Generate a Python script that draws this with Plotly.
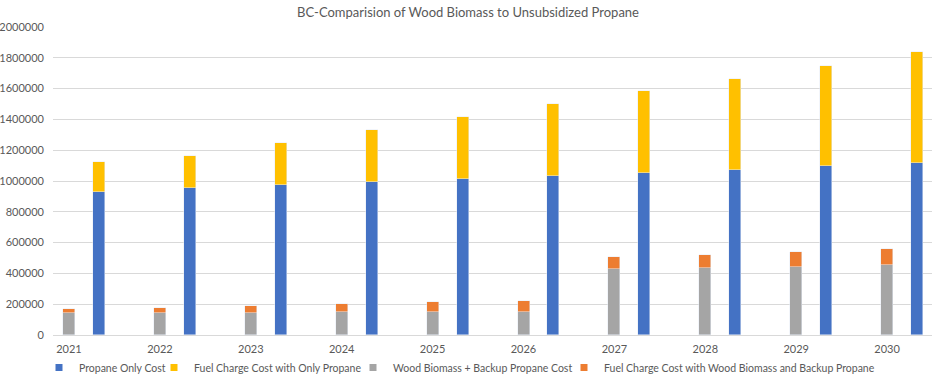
import plotly.graph_objects as go

years = ["2021", "2022", "2023", "2024", "2025", "2026", "2027", "2028", "2029", "2030"]
propane_only = [930000, 952000, 973000, 992000, 1012000, 1033000, 1053000, 1074000, 1095000, 1117000]
fuel_charge_propane = [192000, 213000, 274000, 339000, 402000, 465000, 529000, 591000, 654000, 718000]
wood_biomass = [140000, 143000, 145000, 147000, 150000, 152000, 428000, 436000, 444000, 453000]
fuel_charge_wood = [30000, 34000, 43000, 52000, 62000, 71000, 77000, 85000, 97000, 107000]

series_names = ["Propane Only Cost", "Fuel Charge Cost with Only Propane",
                "Wood Biomass + Backup Propane Cost", "Fuel Charge Cost with Wood Biomass and Backup Propane"]
series_colors = ["#4472C4", "#FFC000", "#A5A5A5", "#ED7D31"]

idx = list(range(len(years)))
x_wood = idx
x_prop = [i + 0.33 for i in idx]
bw = 0.132

W, H = 936, 378

fig = go.Figure()
bar_specs = [(x_prop, propane_only), (x_prop, fuel_charge_propane),
             (x_wood, wood_biomass), (x_wood, fuel_charge_wood)]
for (xs, ys), name, col in zip(bar_specs, series_names, series_colors):
    fig.add_bar(x=xs, y=ys, name=name, marker_color=col, width=bw, showlegend=False)

# legend entries with small square keys (Excel style)
legend_ids = ["legend", "legend2", "legend3", "legend4"]
for name, col, lid in zip(series_names, series_colors, legend_ids):
    fig.add_scatter(x=[None], y=[None], mode="markers", name=name,
                    marker=dict(symbol="square", size=7, color=col), legend=lid, showlegend=True)

def leg(px):
    return dict(orientation="h", xref="container", x=px / W, xanchor="left",
                yref="container", y=(H - 353) / H, yanchor="top",
                font=dict(size=10.5, color="#595959"), itemwidth=30,
                bgcolor="rgba(0,0,0,0)")

fig.update_layout(
    width=W, height=H,
    barmode="stack",
    paper_bgcolor="white", plot_bgcolor="white",
    margin=dict(l=53, r=4, t=27, b=43, autoexpand=False),
    font=dict(family="Lato", size=11, color="#595959"),
    title=dict(text="BC-Comparision of Wood Biomass to Unsubsidized Propane",
               x=0.5, xanchor="center", y=1 - 12 / H, yanchor="middle", yref="container",
               font=dict(size=13, color="#595959")),
    showlegend=True,
    legend=leg(39),
    legend2=leg(154),
    legend3=leg(353),
    legend4=leg(564),
    bargap=0,
)
fig.update_xaxes(range=[-0.176, 9.494], tickmode="array", tickvals=idx, ticktext=years,
                 showgrid=False, showline=True, linecolor="#D9D9D9", ticks="", zeroline=False,
                 tickfont=dict(size=11, color="#595959"), ticklabelstandoff=4)
fig.update_yaxes(range=[0, 2000000], dtick=200000, tickformat="d", showgrid=True, gridcolor="#D9D9D9",
                 zeroline=False, showline=False, ticks="", tickfont=dict(size=11, color="#595959"),
                 ticklabelstandoff=8)

fig.write_html("out.html", config={"displayModeBar": False},
               post_script="document.body.style.margin='0';document.body.style.overflow='hidden';")
